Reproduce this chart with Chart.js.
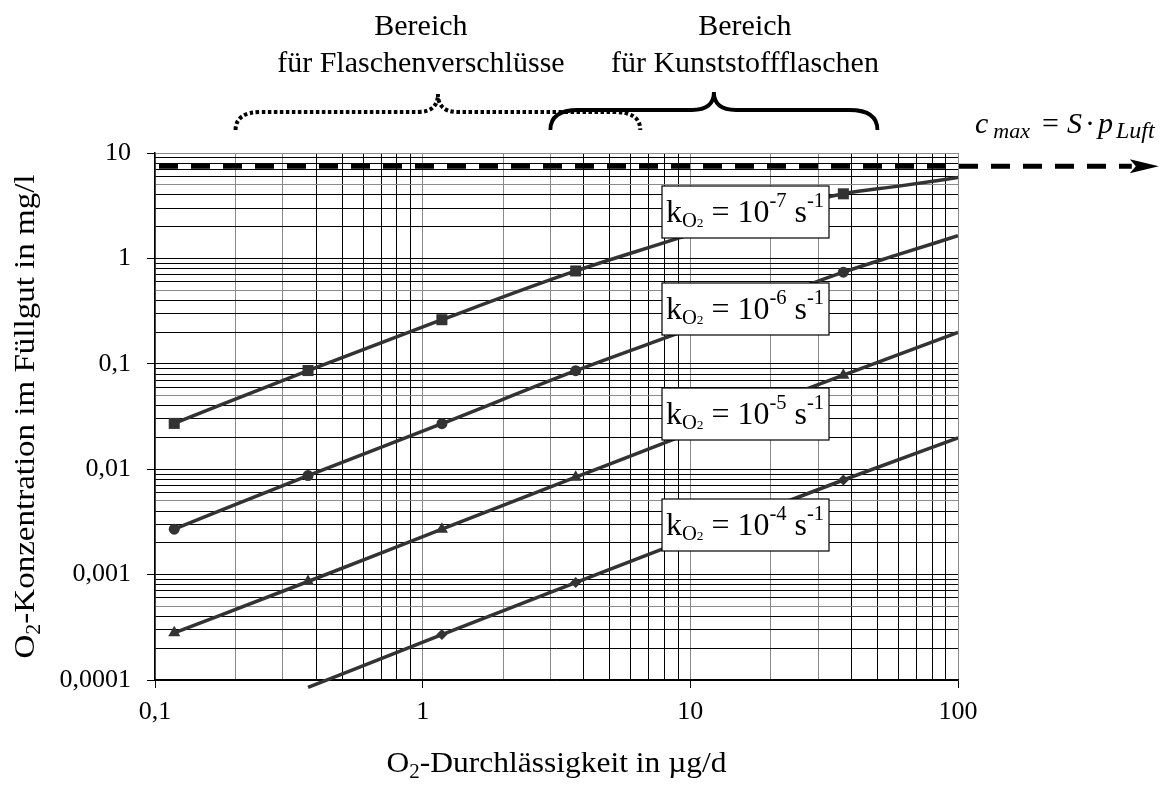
<!DOCTYPE html>
<html>
<head>
<meta charset="utf-8">
<script src="https://cdn.jsdelivr.net/npm/chart.js@4.4.0/dist/chart.umd.min.js"></script>
<style>
  html, body { margin: 0; padding: 0; background: #fff; }
  #wrap { width: 1168px; height: 785px; }
</style>
</head>
<body>
<div id="wrap"><canvas id="chart"></canvas></div>
<script>
// x positions where the markers sit
const markerX = [0.118, 0.373, 1.18, 3.73, 11.8, 37.3];

// k = 1e-7 1/s (squares)
const x1e7 = [0.118, 0.373, 1.18, 3.73, 8.9, 11.8, 37.3, 60, 100];
const y1e7 = [0.0272, 0.0863, 0.262, 0.76, 1.54, 1.95, 4.1, 4.85, 5.85];
// k = 1e-6 1/s (circles)
const x1e6 = [0.118, 0.373, 1.18, 3.73, 8.5, 11.8, 37.3, 60, 100];
const y1e6 = [0.0027, 0.0087, 0.027, 0.086, 0.185, 0.25, 0.74, 1.09, 1.64];
// k = 1e-5 1/s (triangles)
const x1e5 = [0.118, 0.373, 1.18, 3.73, 11.8, 37.3, 100];
const y1e5 = [0.00028, 0.00086, 0.0027, 0.0084, 0.026, 0.078, 0.199];
// k = 1e-4 1/s (diamonds)
const x1e4 = [0.373, 1.18, 3.73, 11.8, 37.3, 100];
const y1e4 = [0.000085, 0.00027, 0.00084, 0.0026, 0.0079, 0.0198];

const kExponents = ['-7', '-6', '-5', '-4'];

// saturation c_max = S * p_Luft
const cMax = 7.5;
const cMaxArrowX = 446;

// ranges marked with braces above the plot
const rangeVerschluss = [0.2, 6.5];
const rangeKunststoff = [3, 50];

const xTicks = [0.1, 1, 10, 100];
const xTickLabels = ['0,1', '1', '10', '100'];
const yTicks = [0.0001, 0.001, 0.01, 0.1, 1, 10];
const yTickLabels = ['0,0001', '0,001', '0,01', '0,1', '1', '10'];

const SERIF = "'Liberation Serif', 'Times New Roman', serif";
const LINE = '#333333';

function logTicks(majors) {
    const out = [];
    majors.forEach((d, i) => {
        if (i === majors.length - 1) { out.push({ value: d }); return; }
        for (let m = 1; m < 10; m++) out.push({ value: m * d });
    });
    return out;
}

function mantissa(v) {
    return Math.round(v / Math.pow(10, Math.floor(Math.log10(v) + 1e-9)));
}

// draws text pieces one after another (sub/superscripts via dy, extra space via gap)
function drawRich(ctx, parts, x, y, align, sx) {
    sx = sx || 1;
    let total = 0;
    parts.forEach(p => { ctx.font = p.f; total += ctx.measureText(p.t).width + (p.gap || 0); });
    const start = align === 'center' ? x - total * sx / 2 : x;
    ctx.save();
    ctx.translate(start, y);
    ctx.scale(sx, 1);
    ctx.textAlign = 'left';
    ctx.textBaseline = 'alphabetic';
    ctx.fillStyle = '#000';
    let cx = 0;
    parts.forEach(p => {
        ctx.font = p.f;
        cx += p.gap || 0;
        ctx.fillText(p.t, cx, p.dy || 0);
        cx += ctx.measureText(p.t).width;
    });
    ctx.restore();
}

function brace(ctx, xl, xr, yEnd, yBar, yTip, rEnd, rTip) {
    const xc = (xl + xr) / 2;
    ctx.beginPath();
    ctx.moveTo(xl, yEnd);
    ctx.quadraticCurveTo(xl, yBar, xl + rEnd, yBar);
    ctx.lineTo(xc - rTip, yBar);
    ctx.quadraticCurveTo(xc, yBar, xc, yTip);
    ctx.quadraticCurveTo(xc, yBar, xc + rTip, yBar);
    ctx.lineTo(xr - rEnd, yBar);
    ctx.quadraticCurveTo(xr, yBar, xr, yEnd);
    ctx.stroke();
}

const overlay = {
    id: 'overlay',
    afterDatasetsDraw(chart) {
        const { ctx, chartArea: a, scales: { x, y } } = chart;
        const f = (s, it) => (it ? 'italic ' : '') + s + 'px ' + SERIF;

        // arrowhead at the end of the c_max line
        const yc = y.getPixelForValue(cMax);
        const xe = x.getPixelForValue(cMaxArrowX);
        ctx.save();
        ctx.fillStyle = '#000';
        ctx.beginPath();
        ctx.moveTo(xe - 2, yc - 7);
        ctx.lineTo(xe + 27, yc);
        ctx.lineTo(xe - 2, yc + 7);
        ctx.lineTo(xe + 4, yc);
        ctx.closePath();
        ctx.fill();
        ctx.restore();

        // label boxes on top of the curves
        const boxLeft = a.left + 507, boxW = 167, boxH = 52;
        const boxTops = [33, 130, 235, 346];
        boxTops.forEach((t, i) => {
            const top = a.top + t;
            ctx.save();
            ctx.fillStyle = '#fff';
            ctx.fillRect(boxLeft, top, boxW, boxH);
            ctx.strokeStyle = '#000';
            ctx.lineWidth = 1.2;
            ctx.strokeRect(boxLeft, top, boxW, boxH);
            ctx.restore();
            drawRich(ctx, [
                { t: 'k', f: f(31) },
                { t: 'O', f: f(20), dy: 5 },
                { t: '2', f: f(13), dy: 5 },
                { t: ' = 10', f: f(31) },
                { t: kExponents[i], f: f(20), dy: -15 },
                { t: ' s', f: f(31) },
                { t: '-1', f: f(20), dy: -15 }
            ], boxLeft + 4, top + 36, 'left', 1.03);
        });

        // c_max formula
        drawRich(ctx, [
            { t: 'c', f: f(30, true) },
            { t: 'max', f: f(22, true), dy: 5, gap: 5 },
            { t: '=', f: f(30), gap: 12 },
            { t: 'S', f: f(30, true), gap: 8 },
            { t: '·', f: f(30), gap: 3 },
            { t: 'p', f: f(30, true), gap: 3 },
            { t: 'Luft', f: f(24, true), dy: 5, gap: 3 }
        ], a.right + 17, 133, 'left');

        // braces
        ctx.save();
        ctx.strokeStyle = '#000';
        ctx.lineWidth = 4;
        ctx.lineCap = 'butt';
        ctx.setLineDash([3.5, 2.5]);
        const vl = x.getPixelForValue(rangeVerschluss[0]);
        const vr = x.getPixelForValue(rangeVerschluss[1]);
        brace(ctx, vl, vr, 130, 112, 94, 26, 20);
        ctx.setLineDash([]);
        ctx.lineWidth = 3.8;
        const kl = x.getPixelForValue(rangeKunststoff[0]);
        const kr = x.getPixelForValue(rangeKunststoff[1]);
        brace(ctx, kl, kr, 130, 110, 92, 28, 22);
        ctx.restore();

        // range captions
        const vc = (vl + vr) / 2 - 17, kc = (kl + kr) / 2 + 31;
        drawRich(ctx, [{ t: 'Bereich', f: f(30) }], vc, 35, 'center');
        drawRich(ctx, [{ t: 'für Flaschenverschlüsse', f: f(30) }], vc, 72, 'center');
        drawRich(ctx, [{ t: 'Bereich', f: f(30) }], kc, 35, 'center');
        drawRich(ctx, [{ t: 'für Kunststoffflaschen', f: f(30) }], kc, 72, 'center');

        // axis titles
        drawRich(ctx, [
            { t: 'O', f: f(30) },
            { t: '2', f: f(20), dy: 6 },
            { t: '-Durchlässigkeit in µg/d', f: f(30) }
        ], (a.left + a.right) / 2, 772, 'center', 1.05);

        ctx.save();
        ctx.translate(34, (a.top + a.bottom) / 2);
        ctx.rotate(-Math.PI / 2);
        drawRich(ctx, [
            { t: 'O', f: f(30) },
            { t: '2', f: f(20), dy: 6 },
            { t: '-Konzentration im Füllgut in mg/l', f: f(30) }
        ], 0, 0, 'center', 1.1);
        ctx.restore();
    }
};

const series = [
    { xs: x1e7, ys: y1e7, style: 'rect', r: 7.8 },
    { xs: x1e6, ys: y1e6, style: 'circle', r: 5.5 },
    { xs: x1e5, ys: y1e5, style: 'triangle', r: 7 },
    { xs: x1e4, ys: y1e4, style: 'rectRot', r: 5.5 }
];

const datasets = series.map(s => ({
    data: s.xs.map((v, i) => ({ x: v, y: s.ys[i] })),
    borderColor: LINE,
    backgroundColor: LINE,
    borderWidth: 3.5,
    pointStyle: s.style,
    pointRadius: c => (markerX.includes(c.raw.x) && c.raw.y >= yTicks[0]) ? s.r : 0,
    pointBorderWidth: 0,
    cubicInterpolationMode: 'monotone',
    clip: { left: 0, top: 0, right: 0, bottom: 10 }
}));

datasets.unshift({
    data: [{ x: xTicks[0], y: cMax }, { x: cMaxArrowX, y: cMax }],
    borderColor: '#000',
    borderWidth: 5,
    borderDash: [19, 13],
    borderDashOffset: -4,
    pointRadius: 0,
    clip: false
});

new Chart(document.getElementById('chart'), {
    type: 'line',
    data: { datasets },
    options: {
        responsive: true,
        maintainAspectRatio: false,
        animation: false,
        events: [],
        layout: { padding: { top: 153, right: 210, left: 0, bottom: 0 } },
        plugins: { legend: { display: false }, tooltip: { enabled: false } },
        scales: {
            x: {
                type: 'logarithmic',
                min: xTicks[0],
                max: xTicks[xTicks.length - 1],
                afterBuildTicks: s => { s.ticks = logTicks(xTicks); },
                afterFit: s => { s.height = 105; },
                ticks: {
                    autoSkip: false,
                    maxRotation: 0,
                    padding: 9,
                    color: '#000',
                    font: { family: SERIF, size: 26 },
                    callback: v => { const i = xTicks.indexOf(v); return i >= 0 ? xTickLabels[i] : ''; }
                },
                grid: {
                    color: c => mantissa(c.tick.value) <= 3 ? '#8a8a8a' : '#000',
                    lineWidth: 1,
                    tickLength: 8,
                    tickColor: c => xTicks.includes(c.tick.value) ? '#000' : 'rgba(0,0,0,0)'
                },
                border: { color: '#000', width: 1.5 }
            },
            y: {
                type: 'logarithmic',
                min: yTicks[0],
                max: yTicks[yTicks.length - 1],
                afterBuildTicks: s => { s.ticks = logTicks(yTicks); },
                afterFit: s => { s.width = 155; },
                ticks: {
                    autoSkip: false,
                    padding: 16,
                    color: '#000',
                    font: { family: SERIF, size: 26 },
                    callback: v => { const i = yTicks.indexOf(v); return i >= 0 ? yTickLabels[i] : ''; }
                },
                grid: {
                    color: c => (mantissa(c.tick.value) === 5 || c.tick.value === yTicks[yTicks.length - 1]) ? '#8a8a8a' : '#000',
                    lineWidth: 1,
                    tickLength: 8,
                    tickColor: c => yTicks.includes(c.tick.value) ? '#000' : 'rgba(0,0,0,0)'
                },
                border: { color: '#000', width: 1.5 }
            }
        }
    },
    plugins: [overlay]
});
</script>
</body>
</html>
